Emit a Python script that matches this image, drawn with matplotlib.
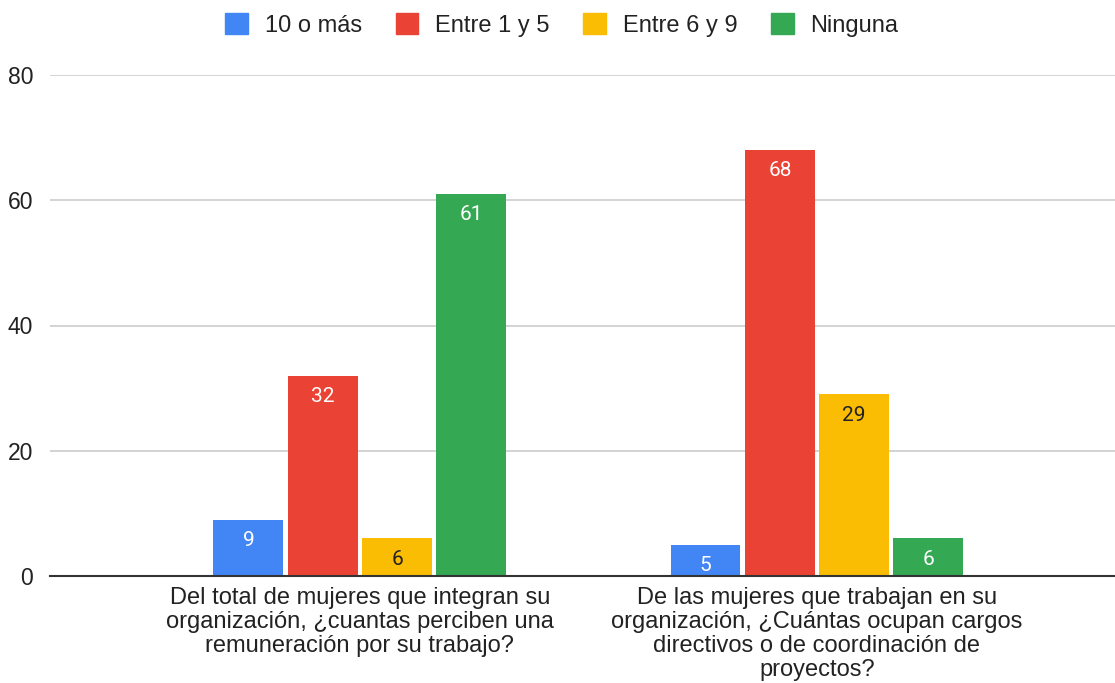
import matplotlib
matplotlib.use("Agg")
import matplotlib.pyplot as plt
from matplotlib.patches import Patch

categories = [
    "Del total de mujeres que integran su\norganización, ¿cuantas perciben una\nremuneración por su trabajo?",
    "De las mujeres que trabajan en su\norganización, ¿Cuántas ocupan cargos\ndirectivos o de coordinación de\nproyectos?",
]
series_names = ["10 o más", "Entre 1 y 5", "Entre 6 y 9", "Ninguna"]
values = {
    "10 o más": [9, 5],
    "Entre 1 y 5": [32, 68],
    "Entre 6 y 9": [6, 29],
    "Ninguna": [61, 6],
}
colors = ["#4285F4", "#EA4335", "#FBBC04", "#34A853"]
label_colors = ["white", "white", "#222222", "white"]
yticks = [0, 20, 40, 60, 80]

fig = plt.figure(figsize=(11.15, 6.83), dpi=100)
ax = fig.add_axes([50 / 1115, 1 - 576 / 683, 1 - 50 / 1115, (576 - 75) / 683])

width = 0.153
step = 0.1626
n = len(series_names)
for i, name in enumerate(series_names):
    offs = (i - (n - 1) / 2) * step
    xs = [k + offs for k in range(len(categories))]
    bars = ax.bar(xs, values[name], width=width, color=colors[i], zorder=3, label=name)
    for b, v in zip(bars, values[name]):
        ax.annotate(str(v), (b.get_x() + b.get_width() / 2, v), xytext=(0, -15),
                    textcoords="offset points", ha="center", va="center",
                    fontsize=15, color=label_colors[i], family="Roboto", zorder=4)

ax.set_xlim(-0.678, 1.652)
ax.set_ylim(0, 80)
ax.set_yticks(yticks)
ax.set_yticklabels([str(t) for t in yticks], family="Liberation Sans", fontsize=16.5, color="#222222")
ax.set_xticks(range(len(categories)))
ax.set_xticklabels(categories, family="Liberation Sans", fontsize=17, color="#222222", linespacing=1.12)
ax.tick_params(axis="both", length=0)
ax.tick_params(axis="y", pad=12)
ax.tick_params(axis="x", pad=8)
ax.grid(axis="y", color="#cccccc", linewidth=1.2, zorder=0)
for s in ["top", "right", "left"]:
    ax.spines[s].set_visible(False)
ax.spines["bottom"].set_color("#333333")
ax.spines["bottom"].set_linewidth(1.5)
ax.spines["bottom"].set_zorder(5)

handles = [Patch(facecolor=c, edgecolor=c) for c in colors]
fig.legend(handles, series_names, loc="center", bbox_to_anchor=(562 / 1115, 1 - 25 / 683), ncol=4,
           frameon=False, handlelength=0.97, handleheight=0.97, handletextpad=0.72, columnspacing=1.4,
           prop={"family": "Liberation Sans", "size": 17})
for t in fig.legends[0].get_texts():
    t.set_color("#222222")

fig.savefig("out.png", dpi=100)
